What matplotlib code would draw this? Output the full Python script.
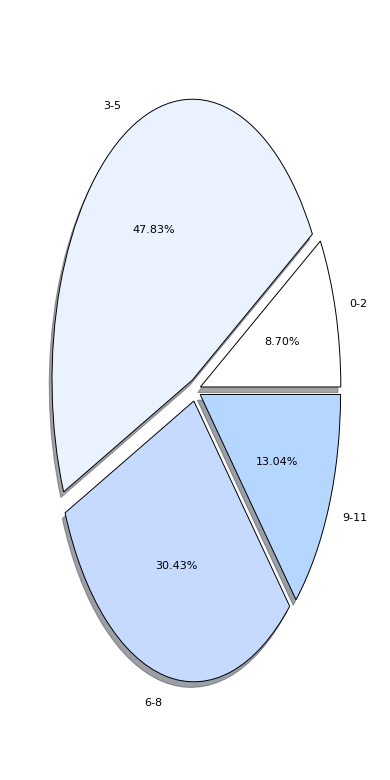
import matplotlib
matplotlib.use('Agg')
from matplotlib import pyplot as plt

labels = ['0-2', '3-5', '6-8', '9-11']
counts = [2, 11, 7, 3]
colors = ['#ffffff', '#eaf1ff', '#c6d9ff', '#b5d6ff']
explode = [0.04, 0.04, 0.04, 0.04]

fig = plt.figure(figsize=(3.9, 7.8), dpi=100)
ax = fig.add_axes([0.05, 0.05, 0.9, 0.9])
ax.pie(counts, labels=labels, colors=colors, explode=explode,
       autopct='%1.2f%%', shadow={'ox': -0.0144, 'oy': -0.0144},
       wedgeprops={'edgecolor': 'black', 'linewidth': 0.7},
       textprops={'fontsize': 8})
ax.set_aspect('auto')

fig.savefig('out.png')
